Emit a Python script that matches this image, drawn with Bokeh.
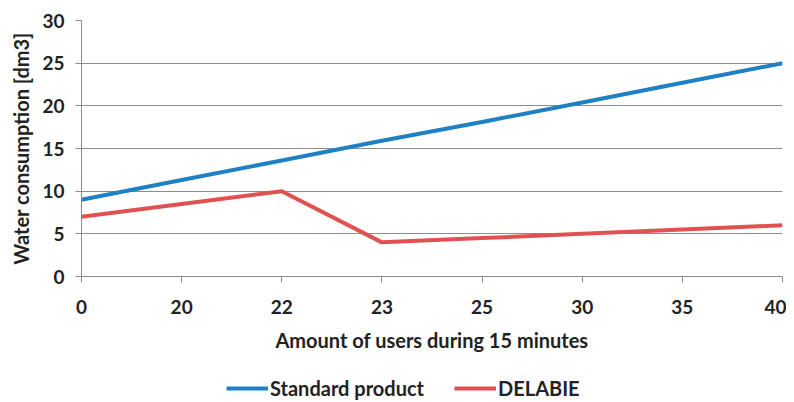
from bokeh.plotting import figure
from bokeh.layouts import column
from bokeh.models import Range1d, FixedTicker, Legend, LegendItem
from bokeh.embed import file_html
from bokeh.resources import INLINE

categories = ["0", "20", "22", "23", "25", "30", "35", "40"]
standard_product = [9, 11.3, 13.6, 15.9, 18.1, 20.4, 22.7, 25]
delabie = [7, 8.5, 10, 4, 4.5, 5, 5.5, 6]
y_ticks = [0, 5, 10, 15, 20, 25, 30]
series_names = ["Standard product", "DELABIE"]
series_colors = ["#1f80c3", "#e05252"]

FONT = "Lato"
W = 786
idx = list(range(len(categories)))

p = figure(width=W, height=356, output_backend="svg", toolbar_location=None,
           x_range=Range1d(0, len(categories) - 1), y_range=Range1d(0, 30),
           min_border_left=81, min_border_right=4, min_border_top=20, min_border_bottom=80)
p.outline_line_color = None
p.background_fill_color = "white"

p.line(idx, standard_product, line_color=series_colors[0], line_width=4)
p.line(idx, delabie, line_color=series_colors[1], line_width=4)

p.xaxis.ticker = FixedTicker(ticks=idx)
p.xaxis.major_label_overrides = {i: c for i, c in enumerate(categories)}
p.yaxis.ticker = FixedTicker(ticks=y_ticks)

for ax in (p.xaxis, p.yaxis):
    ax.axis_line_color = "#8c8c8c"
    ax.major_tick_line_color = "#8c8c8c"
    ax.minor_tick_line_color = None
    ax.major_tick_in = 0
    ax.major_tick_out = 6
    ax.major_label_text_font = FONT
    ax.major_label_text_font_style = "bold"
    ax.major_label_text_font_size = "19px"
    ax.major_label_text_color = "#222222"
    ax.axis_label_text_font = FONT
    ax.axis_label_text_font_style = "bold"
    ax.axis_label_text_font_size = "20px"
    ax.axis_label_text_color = "#222222"

p.xaxis.axis_label = "Amount of users during 15 minutes"
p.yaxis.axis_label = "Water consumption [dm3]"
p.xaxis.major_label_standoff = 17
p.xaxis.axis_label_standoff = 11
p.yaxis.major_label_standoff = 11
p.yaxis.axis_label_standoff = 6

p.xgrid.grid_line_color = None
p.ygrid.grid_line_color = "#8c8c8c"
p.ygrid.grid_line_width = 1

# legend strip below the chart (series drawn outside its visible range)
p2 = figure(width=W, height=46, output_backend="svg", toolbar_location=None,
            x_range=Range1d(0, len(categories) - 1), y_range=Range1d(100, 101),
            min_border=0)
p2.axis.visible = False
p2.grid.visible = False
p2.outline_line_color = None
lr1 = p2.line(idx, standard_product, line_color=series_colors[0], line_width=4)
lr2 = p2.line(idx, delabie, line_color=series_colors[1], line_width=4)
legend = Legend(items=[LegendItem(label=series_names[0], renderers=[lr1]),
                       LegendItem(label=series_names[1], renderers=[lr2])],
                orientation="horizontal", location=(145, 2),
                label_text_font=FONT, label_text_font_style="bold",
                label_text_font_size="20px", label_text_color="#222222",
                border_line_color=None, background_fill_alpha=0,
                glyph_width=42, label_standoff=2, spacing=30,
                margin=0, padding=0)
p2.add_layout(legend)

open("out.html", "w").write(file_html(column(p, p2, spacing=0), INLINE))
